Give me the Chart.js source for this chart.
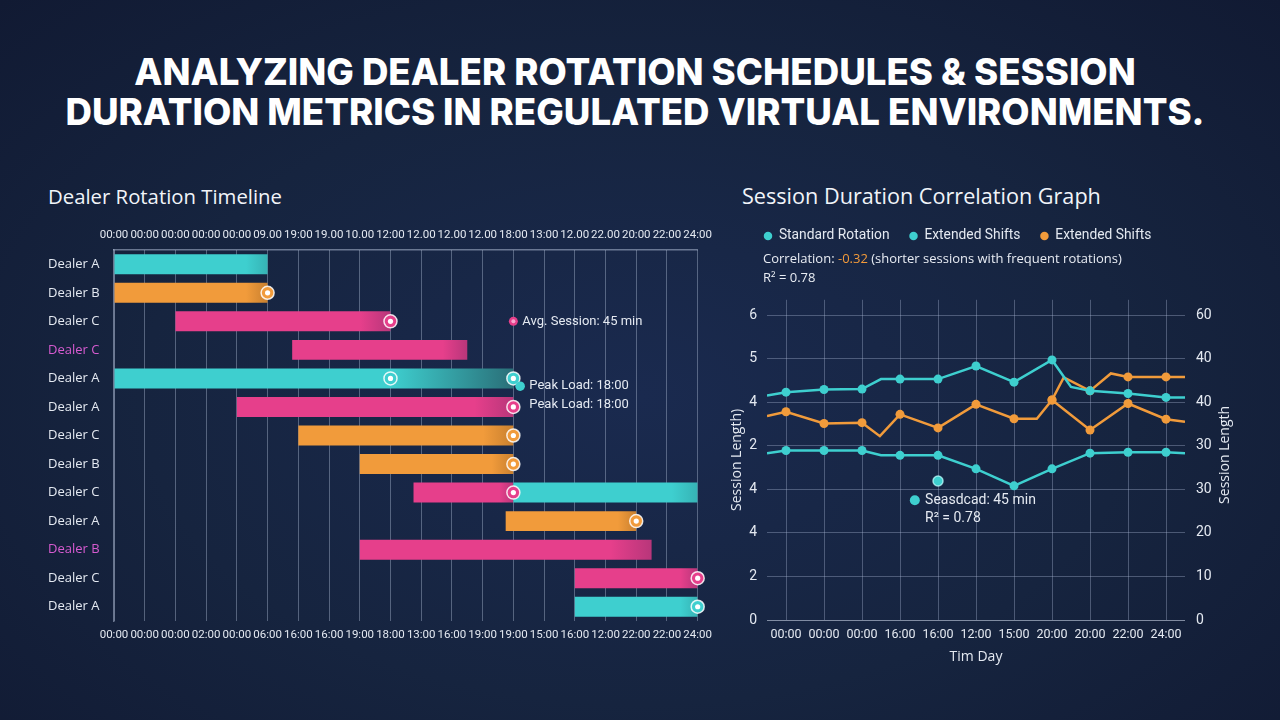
<!DOCTYPE html>
<html>
<head>
<meta charset="utf-8">
<script src="https://cdn.jsdelivr.net/npm/chart.js@4.4.1/dist/chart.umd.min.js"></script>
<style>
  html, body { margin: 0; padding: 0; width: 1280px; height: 720px; overflow: hidden; }
  body {
    position: relative;
    background: radial-gradient(ellipse at 50% 55%, #1a2a4f 0%, #16243f 55%, #111a33 100%);
    font-family: "Open Sans", Roboto, sans-serif;
  }
  .tline { position: absolute; left: 0; width: 1270px; text-align: center; color: #ffffff;
           font-family: Inter, "Open Sans", sans-serif; font-weight: 800; font-size: 34px; line-height: 40px; white-space: nowrap; }
  .tline span { display: inline-block; }
  .sub { position: absolute; color: #f1f4f9; font-size: 19px; line-height: 24px; font-weight: 500; white-space: nowrap; }
  #corr { position: absolute; left: 763px; top: 249px; color: #e8ecf3; font-size: 13px; line-height: 19px; white-space: nowrap; }
  #corr .neg { color: #f39a3a; }
  canvas { position: absolute; }
</style>
</head>
<body>
<div class="tline" style="top:52px"><span id="t1">ANALYZING DEALER ROTATION SCHEDULES &amp; SESSION</span></div>
<div class="tline" style="top:92px"><span id="t2">DURATION METRICS IN REGULATED VIRTUAL ENVIRONMENTS.</span></div>
<div class="sub" style="left:48px; top:184px"><span id="s1">Dealer Rotation Timeline</span></div>
<div class="sub" style="left:742px; top:184px"><span id="s2">Session Duration Correlation Graph</span></div>

<canvas id="gantt" width="720" height="430" style="left:0px; top:222px; width:720px; height:430px"></canvas>
<canvas id="corrChart" width="560" height="470" style="left:720px; top:209px; width:560px; height:470px"></canvas>

<div id="corr"><span id="c1">Correlation: <span class="neg">-0.32</span> (shorter sessions with frequent rotations)</span><br>R² = 0.78</div>

<script>
// ---------------- DATA: Dealer Rotation Timeline ----------------
const rowLabels = ['Dealer A','Dealer B','Dealer C','Dealer C','Dealer A','Dealer A','Dealer C',
                   'Dealer B','Dealer C','Dealer A','Dealer B','Dealer C','Dealer A'];
const topTimeLabels = ['00:00','00:00','00:00','00:00','00:00','09.00','19:00','19.00','10.00','12:00',
                       '12.00','12.00','12.00','18:00','13:00','12.00','22.00','20:00','22:00','24:00'];
const bottomTimeLabels = ['00:00','00:00','00:00','02:00','00:00','06:00','16:00','16:00','19:00','18:00',
                          '13:00','16:00','19:00','19:00','15:00','16:00','12:00','22:00','22:00','24:00'];
// floating bar spans [start, end] per row, in timeline slots
const tealSpans   = [[0,5], null, null, null, [0,13], null, null, null, [13,19], null, null, null, [15,19]];
const orangeSpans = [null, [0,5], null, null, null, null, [6,13], [8,13], null, [12.75,17], null, null, null];
const pinkSpans   = [null, null, [2,9], [5.8,11.5], null, [4,13], null, null, [9.75,13], null, [8,17.5], [15,19], null];
// handover markers: [slot, row]
const tealMarkers   = [[9,4],[13,4],[19,12]];
const orangeMarkers = [[5,1],[13,6],[13,7],[17,9]];
const pinkMarkers   = [[9,2],[13,5],[13,8],[19,11]];

// ---------------- DATA: Session Duration Correlation ----------------
const timeLabels = ['00:00','00:00','00:00','16:00','16:00','12:00','15:00','20:00','20:00','22:00','24:00'];
const leftTickLabels  = ['0','2','4','4','2','4','5','6'];
const rightTickLabels = ['0','10','20','30','30','40','40','60'];

const standardX = [-0.5, 0, 1, 2, 2.5, 3, 4, 5, 6, 7, 7.5, 8, 9, 10, 10.5];
const standardY = [5.15, 5.23, 5.29, 5.30, 5.53, 5.53, 5.53, 5.83, 5.46, 5.97, 5.35, 5.26, 5.20, 5.11, 5.11];

const extTealX = [-0.5, 0, 1, 2, 2.5, 3, 4, 5, 6, 7, 8, 9, 10, 10.5];
const extTealY = [3.83, 3.89, 3.89, 3.89, 3.78, 3.78, 3.78, 3.47, 3.08, 3.47, 3.83, 3.85, 3.85, 3.83];

const extOrangeX = [-0.5, 0, 1, 2, 2.47, 3, 4, 5, 6, 6.6, 7, 8, 9, 10, 10.5];
const extOrangeY = [4.68, 4.78, 4.51, 4.53, 4.22, 4.72, 4.41, 4.95, 4.62, 4.62, 5.05, 4.36, 4.97, 4.61, 4.55];

const extOrangeBranchX = [7, 7.31, 8, 8.55, 9, 10, 10.5];
const extOrangeBranchY = [5.05, 5.57, 5.26, 5.66, 5.58, 5.58, 5.58];

const sessionPointX = [4];
const sessionPointY = [3.19];

// ---------------- STYLE ----------------
const TEAL = '#3ecfcf', ORANGE = '#f19b3b', PINK = '#e63f8b';
const TEXT = '#e4e9f1';
const highlightRows = [3, 10];
const rowKeys = rowLabels.map((l, i) => i + '|' + l);

function barFill(base, dark, fadeStart) {
  return function (ctx) {
    const span = ctx.raw;
    const chart = ctx.chart;
    if (!span || !chart.chartArea) return base;
    const xs = chart.scales.x;
    const x0 = xs.getPixelForValue(span[0]), x1 = xs.getPixelForValue(span[1]);
    if (!isFinite(x0) || !isFinite(x1) || x1 - x0 < 2) return base;
    const g = chart.ctx.createLinearGradient(x0, 0, x1, 0);
    const fs = fadeStart ? fadeStart(ctx) : null;
    if (fs !== null && fs !== undefined) {
      const p = Math.min(0.98, Math.max(0, (fs - span[0]) / (span[1] - span[0])));
      g.addColorStop(0, base); g.addColorStop(p, base); g.addColorStop(1, '#2a6f78');
    } else {
      g.addColorStop(0, base); g.addColorStop(0.86, base); g.addColorStop(1, dark);
    }
    return g;
  };
}

function toPoints(marks) { return marks.map(m => ({ x: m[0], y: rowKeys[m[1]] })); }

const ringBase = { type: 'scatter', xAxisID: 'x', yAxisID: 'y', clip: false, showLine: false };
function ringOuter(marks, color) {
  return Object.assign({}, ringBase, { data: toPoints(marks), pointRadius: 6.5, pointHoverRadius: 6.5,
    pointBackgroundColor: color, pointBorderColor: 'rgba(255,255,255,0.85)', pointBorderWidth: 1.5 });
}
function ringInner(marks) {
  return Object.assign({}, ringBase, { data: toPoints(marks), pointRadius: 2.6, pointHoverRadius: 2.6,
    pointBackgroundColor: '#ffffff', pointBorderWidth: 0 });
}

const ganttNotes = {
  id: 'ganttNotes',
  afterDatasetsDraw(chart) {
    const { ctx } = chart, x = chart.scales.x, y = chart.scales.y;
    ctx.save();
    ctx.font = '13px Roboto, "Open Sans", sans-serif';
    ctx.textBaseline = 'middle';
    ctx.fillStyle = TEXT;
    // Avg. Session marker
    let px = x.getPixelForValue(13), py = y.getPixelForValue(2);
    ctx.beginPath(); ctx.arc(px, py, 4.5, 0, Math.PI * 2); ctx.fillStyle = PINK; ctx.fill();
    ctx.beginPath(); ctx.arc(px, py, 2, 0, Math.PI * 2); ctx.fillStyle = '#f7a6cf'; ctx.fill();
    ctx.fillStyle = TEXT;
    ctx.fillText('Avg. Session: 45 min', px + 9, py);
    // Peak load markers
    const ty0 = y.getPixelForValue(4) + 7.5, ty1 = y.getPixelForValue(5) - 2;
    const dx = x.getPixelForValue(13.22), dy = y.getPixelForValue(4) + 7.8;
    ctx.beginPath(); ctx.arc(dx, dy, 4.8, 0, Math.PI * 2); ctx.fillStyle = TEAL; ctx.fill();
    ctx.fillStyle = TEXT;
    const tx = x.getPixelForValue(13.52);
    ctx.fillText('Peak Load: 18:00', tx, ty0);
    ctx.fillText('Peak Load: 18:00', tx, ty1);
    ctx.restore();
  }
};

new Chart(document.getElementById('gantt'), {
  type: 'bar',
  data: {
    labels: rowKeys,
    datasets: [
      ringInner(tealMarkers), ringOuter(tealMarkers, TEAL),
      ringInner(orangeMarkers), ringOuter(orangeMarkers, ORANGE),
      ringInner(pinkMarkers), ringOuter(pinkMarkers, PINK),
      { type: 'bar', label: 'Teal', data: tealSpans, grouped: false, xAxisID: 'x', yAxisID: 'y',
        backgroundColor: barFill(TEAL, '#36b3b5', c => c.dataIndex === 4 ? 9 : null),
        barPercentage: 0.7, categoryPercentage: 1, borderWidth: 0 },
      { type: 'bar', label: 'Orange', data: orangeSpans, grouped: false, xAxisID: 'x', yAxisID: 'y',
        backgroundColor: barFill(ORANGE, '#c9802f'), barPercentage: 0.7, categoryPercentage: 1, borderWidth: 0 },
      { type: 'bar', label: 'Pink', data: pinkSpans, grouped: false, xAxisID: 'x', yAxisID: 'y',
        backgroundColor: barFill(PINK, '#b8367a'), barPercentage: 0.7, categoryPercentage: 1, borderWidth: 0 }
    ]
  },
  options: {
    indexAxis: 'y',
    responsive: false,
    animation: false,
    events: [],
    layout: { padding: { left: 48, right: 20, top: 0, bottom: 0 } },
    plugins: { legend: { display: false }, tooltip: { enabled: false } },
    scales: {
      x: {
        type: 'linear', position: 'bottom', min: 0, max: 19,
        afterBuildTicks: s => { s.ticks = bottomTimeLabels.map((_, i) => ({ value: i })); },
        afterFit: s => { s.height = 31; },
        grid: { color: 'rgba(175,188,212,0.42)', lineWidth: 1, drawTicks: false },
        border: { display: false },
        ticks: { autoSkip: false, maxRotation: 0, padding: 7, color: TEXT,
                 font: { family: 'Roboto', size: 11.5 },
                 callback: (v) => bottomTimeLabels[Math.round(v)] }
      },
      x2: {
        type: 'linear', position: 'top', min: 0, max: 19,
        afterBuildTicks: s => { s.ticks = topTimeLabels.map((_, i) => ({ value: i })); },
        afterFit: s => { s.height = 28; },
        grid: { display: false, drawTicks: false },
        border: { display: true, color: 'rgba(175,188,212,0.55)', width: 1.5 },
        ticks: { autoSkip: false, maxRotation: 0, padding: 8, color: TEXT,
                 font: { family: 'Roboto', size: 11.5 },
                 callback: (v) => topTimeLabels[Math.round(v)] }
      },
      y: {
        type: 'category', labels: rowKeys, offset: true,
        afterFit: s => { s.width = 66; },
        grid: { display: false, drawTicks: false },
        border: { display: true, color: 'rgba(175,188,212,0.55)', width: 1.5 },
        ticks: { crossAlign: 'far', padding: 10, autoSkip: false,
                 font: { family: '"Open Sans"', size: 13 },
                 color: c => highlightRows.includes(c.index) ? '#d65bd0' : TEXT,
                 callback: (v, i) => rowLabels[i] }
      }
    }
  },
  plugins: [ganttNotes]
});

// ---------------- Correlation chart ----------------
function pts(xs, ys) { return xs.map((x, i) => ({ x: x, y: ys[i] })); }
const markRadius = c => (c.raw && Number.isInteger(c.raw.x)) ? 4.5 : 0;

const corrNotes = {
  id: 'corrNotes',
  afterDatasetsDraw(chart) {
    const { ctx } = chart, x = chart.scales.x, y = chart.scales.y;
    ctx.save();
    const dx = x.getPixelForValue(3.39), dy = y.getPixelForValue(2.75);
    ctx.beginPath(); ctx.arc(dx, dy, 5, 0, Math.PI * 2); ctx.fillStyle = TEAL; ctx.fill();
    ctx.font = '14px Roboto, "Open Sans", sans-serif';
    ctx.textBaseline = 'middle';
    ctx.fillStyle = TEXT;
    const tx = x.getPixelForValue(3.66);
    ctx.fillText('Seasdcad: 45 min', tx, dy);
    ctx.fillText('R² = 0.78', tx, y.getPixelForValue(2.34));
    // right axis title (reads bottom to top)
    ctx.translate(1225 - 720, (chart.chartArea.top + chart.chartArea.bottom) / 2 - 5);
    ctx.rotate(-Math.PI / 2);
    ctx.textAlign = 'center';
    ctx.font = '14px "Open Sans", sans-serif';
    ctx.fillText('Session Length', 0, 0);
    ctx.restore();
  }
};

new Chart(document.getElementById('corrChart'), {
  type: 'line',
  data: {
    datasets: [
      { label: 'Standard Rotation', data: pts(standardX, standardY), borderColor: TEAL, backgroundColor: TEAL,
        pointBackgroundColor: TEAL, pointBorderWidth: 0, pointRadius: markRadius, borderWidth: 2.5, tension: 0 },
      { label: 'Extended Shifts', data: pts(extTealX, extTealY), borderColor: TEAL, backgroundColor: TEAL,
        pointBackgroundColor: TEAL, pointBorderWidth: 0, pointRadius: markRadius, borderWidth: 2.5, tension: 0 },
      { label: 'Extended Shifts', data: pts(extOrangeX, extOrangeY), borderColor: ORANGE, backgroundColor: ORANGE,
        pointBackgroundColor: ORANGE, pointBorderWidth: 0, pointRadius: markRadius, borderWidth: 2.5, tension: 0 },
      { label: 'Extended Shifts branch', data: pts(extOrangeBranchX, extOrangeBranchY), borderColor: ORANGE, backgroundColor: ORANGE,
        pointBackgroundColor: ORANGE, pointBorderWidth: 0, pointRadius: markRadius, borderWidth: 2.5, tension: 0 },
      { label: 'Session point', data: pts(sessionPointX, sessionPointY), showLine: false,
        pointBackgroundColor: TEAL, pointBorderColor: 'rgba(190,255,255,0.75)', pointBorderWidth: 1.5, pointRadius: 5 }
    ]
  },
  options: {
    responsive: false,
    animation: false,
    events: [],
    layout: { padding: { left: 24, right: 0, top: 0, bottom: 0 } },
    plugins: {
      tooltip: { enabled: false },
      legend: {
        position: 'top', align: 'start', weight: 3000,
        labels: {
          usePointStyle: true, pointStyle: 'circle', boxWidth: 8, boxHeight: 6, padding: 20,
          color: TEXT, font: { family: 'Roboto', size: 13.8 },
          filter: item => item.datasetIndex < 3
        }
      },
      title: { display: true, text: '', position: 'top', weight: 2000, font: { size: 10 }, padding: { top: 0, bottom: 35 } }
    },
    scales: {
      x: {
        type: 'linear', min: -0.5, max: 10.5,
        afterBuildTicks: s => { s.ticks = timeLabels.map((_, i) => ({ value: i })); },
        afterFit: s => { s.height = 59; },
        grid: { color: 'rgba(165,180,208,0.38)', drawTicks: false },
        border: { display: false },
        ticks: { autoSkip: false, maxRotation: 0, padding: 7, color: TEXT,
                 font: { family: 'Roboto', size: 12.5 },
                 callback: v => timeLabels[Math.round(v)] },
        title: { display: true, text: 'Tim Day', color: TEXT, font: { family: '"Open Sans"', size: 14 },
                 padding: { top: 0, bottom: 13.6 } }
      },
      y: {
        type: 'linear', position: 'left', min: 0, max: 7.35,
        afterBuildTicks: s => { s.ticks = leftTickLabels.map((_, i) => ({ value: i })); },
        afterFit: s => { s.width = 23; },
        grid: { color: c => c.tick && c.tick.value === 0 ? 'rgba(200,210,228,0.6)' : 'rgba(165,180,208,0.38)',
                drawTicks: false },
        border: { display: false },
        ticks: { padding: 10, color: TEXT, font: { family: 'Roboto', size: 14 },
                 callback: v => leftTickLabels[Math.round(v)] },
        title: { display: true, text: 'Session Length)', color: TEXT, font: { family: '"Open Sans"', size: 14 },
                 padding: { top: -15.4, bottom: 0 } }
      },
      y2: {
        type: 'linear', position: 'right', min: 0, max: 7.35,
        afterBuildTicks: s => { s.ticks = rightTickLabels.map((_, i) => ({ value: i })); },
        afterFit: s => { s.width = 95; },
        grid: { display: false, drawTicks: false },
        border: { display: false },
        ticks: { padding: 11, color: TEXT, font: { family: 'Roboto', size: 14 },
                 callback: v => rightTickLabels[Math.round(v)] }
      }
    }
  },
  plugins: [corrNotes]
});

// fit heading widths to the reference measurements
function fitTo(el, target, apply) {
  const w = el.getBoundingClientRect().width;
  const fs = parseFloat(getComputedStyle(el).fontSize);
  if (w > 0) (apply || [el]).forEach(e => e.style.fontSize = (fs * target / w) + 'px');
}
fitTo(document.getElementById('t1'), 1002, [document.getElementById('t1'), document.getElementById('t2')]);
fitTo(document.getElementById('s1'), 234);
fitTo(document.getElementById('s2'), 359);
fitTo(document.getElementById('c1'), 359, [document.getElementById('corr')]);
</script>
</body>
</html>
